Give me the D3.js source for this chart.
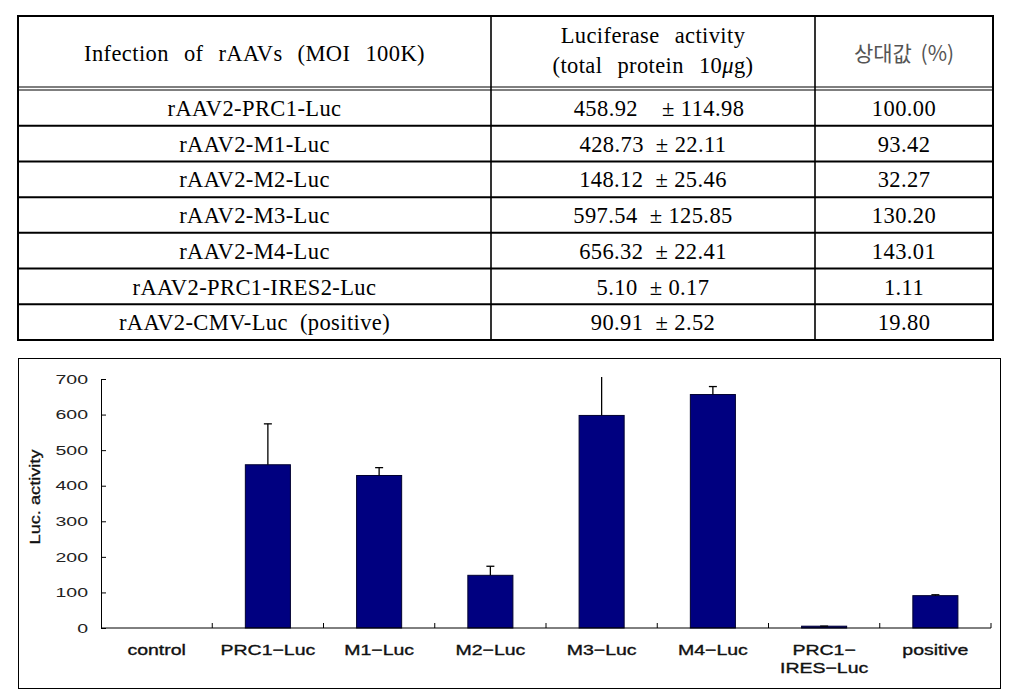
<!DOCTYPE html>
<html><head><meta charset="utf-8">
<script src="https://cdn.jsdelivr.net/npm/d3@7"></script>
<style>body{margin:0;background:#fff} svg{display:block;background:#fff}
.serif{font-family:"Liberation Serif","DejaVu Serif","Times New Roman",serif;}
.sans{font-family:"Liberation Sans","DejaVu Sans",Arial,sans-serif;}
.kr{font-family:"Noto Sans CJK KR",sans-serif;}
</style>
</head><body><svg id="c" width="1016" height="695"></svg>
<script>
// ---- table data ----
const tableHeader1 = "Infection of rAAVs (MOI 100K)";
const tableHeader2a = "Luciferase activity";
const tableHeader2b = "(total protein 10";
const tableHeader3 = "상대값 (%)";
const tableNames = ["rAAV2-PRC1-Luc","rAAV2-M1-Luc","rAAV2-M2-Luc","rAAV2-M3-Luc","rAAV2-M4-Luc","rAAV2-PRC1-IRES2-Luc","rAAV2-CMV-Luc  (positive)"];
const tableMeans = [458.92,428.73,148.12,597.54,656.32,5.10,90.91];
const tableSDs = [114.98,22.11,25.46,125.85,22.41,0.17,2.52];
const tableRelative = [100.00,93.42,32.27,130.20,143.01,1.11,19.80];

// ---- chart data ----
const categories = ["control","PRC1−Luc","M1−Luc","M2−Luc","M3−Luc","M4−Luc","PRC1−IRES−Luc","positive"];
const barValues = [0,458.92,428.73,148.12,597.54,656.32,5.10,90.91];
const barErrors = [0,114.98,22.11,25.46,125.85,22.41,0.17,2.52];
const yTicks = [0,100,200,300,400,500,600,700];
const yTitle = "Luc. activity";

const svg = d3.select("#c");

// ================= TABLE =================
const T = {left:18, right:993, top:16, bottom:340, col1:491, col2:815, hA:87, hB:90};
const tg = svg.append("g");
const rowY = d3.scaleBand().domain(d3.range(tableNames.length)).range([T.hB, T.bottom]).padding(0);
const colX = [(T.left+T.col1)/2, (T.col1+T.col2)/2, (T.col2+T.right)/2];

tg.selectAll("line.row").data(d3.range(1, tableNames.length)).join("line")
  .attr("x1",T.left).attr("x2",T.right)
  .attr("y1",i=>rowY(i)).attr("y2",i=>rowY(i))
  .attr("stroke","#000").attr("stroke-width",2);
[T.hA, T.hB].forEach(y=>tg.append("line").attr("x1",T.left).attr("x2",T.right).attr("y1",y).attr("y2",y).attr("stroke","#000").attr("stroke-width",1.2));
[T.col1, T.col2].forEach(x=>tg.append("line").attr("x1",x).attr("x2",x).attr("y1",T.top).attr("y2",T.bottom).attr("stroke","#000").attr("stroke-width",1.6));
tg.append("rect").attr("x",T.left).attr("y",T.top).attr("width",T.right-T.left).attr("height",T.bottom-T.top)
  .attr("fill","none").attr("stroke","#000").attr("stroke-width",2);

const txt = (g)=>g.attr("class","serif").style("font-size","22.5px").attr("text-anchor","middle").attr("fill","#000")
  .style("letter-spacing","0.4px").style("white-space","pre");

tg.append("text").call(txt).attr("x",colX[0]).attr("y",61).style("word-spacing","9px").text(tableHeader1);
tg.append("text").call(txt).attr("x",colX[1]).attr("y",43).style("word-spacing","9px").text(tableHeader2a);
const h2b = tg.append("text").call(txt).attr("x",colX[1]).attr("y",73).style("word-spacing","9px");
h2b.append("tspan").text(tableHeader2b);
h2b.append("tspan").style("font-style","italic").text("μ");
h2b.append("tspan").text("g)");
tg.append("text").attr("class","kr").attr("x",colX[2]).attr("y",61).attr("text-anchor","middle")
  .style("font-size","21px").attr("fill","#555").style("white-space","pre").style("word-spacing","4px").text(tableHeader3);

tableNames.forEach((n,i)=>{
  const yb = rowY(i) + 26;
  tg.append("text").call(txt).attr("x",colX[0]).attr("y",yb).text(n);
  tg.append("text").call(txt).attr("x",colX[1]+(i===0?6:0)).attr("y",yb)
    .text(tableMeans[i].toFixed(2) + (i===0 ? "    ± " : "  ± ") + tableSDs[i].toFixed(2));
  tg.append("text").call(txt).attr("x",colX[2]).attr("y",yb).text(tableRelative[i].toFixed(2));
});

// ================= CHART =================
svg.append("rect").attr("x",18.5).attr("y",358.5).attr("width",982).attr("height",330)
  .attr("fill","none").attr("stroke","#000").attr("stroke-width",1);

const P = {left:101, right:991, top:379, bottom:628};
const x = d3.scaleBand().domain(categories).range([P.left,P.right]).paddingInner(0.595).paddingOuter(0.2975);
const y = d3.scaleLinear().domain([0,700]).range([P.bottom,P.top]);

const cg = svg.append("g");
svg.append("defs").append("clipPath").attr("id","clip").append("rect")
  .attr("x",P.left).attr("y",P.top-2).attr("width",P.right-P.left).attr("height",P.bottom-P.top+2);

cg.selectAll("rect.bar").data(categories.map((c,i)=>({c,v:barValues[i],e:barErrors[i]})).filter(d=>d.v>0)).join("rect")
  .attr("x",d=>x(d.c)).attr("width",x.bandwidth())
  .attr("y",d=>y(d.v)).attr("height",d=>y(0)-y(d.v))
  .attr("fill","#000080").attr("stroke","#000030").attr("stroke-width",1);

const eg = cg.append("g").attr("clip-path","url(#clip)");
const errs = categories.map((c,i)=>({c,v:barValues[i],e:barErrors[i]})).filter(d=>d.e>0);
eg.selectAll("line.ev").data(errs).join("line")
  .attr("x1",d=>x(d.c)+x.bandwidth()/2).attr("x2",d=>x(d.c)+x.bandwidth()/2)
  .attr("y1",d=>y(d.v)).attr("y2",d=>y(d.v+d.e))
  .attr("stroke","#000").attr("stroke-width",1.3);
eg.selectAll("line.cap").data(errs.filter(d=>d.v+d.e<=700)).join("line")
  .attr("x1",d=>x(d.c)+x.bandwidth()/2-4).attr("x2",d=>x(d.c)+x.bandwidth()/2+4)
  .attr("y1",d=>y(d.v+d.e)).attr("y2",d=>y(d.v+d.e))
  .attr("stroke","#000").attr("stroke-width",1.3);

const ya = cg.append("g").attr("transform",`translate(${P.left},0)`)
  .call(d3.axisLeft(y).tickValues(yTicks).tickSize(-5).tickSizeOuter(0).tickFormat(d3.format("d")));
ya.select(".domain").attr("stroke","#000");
ya.selectAll(".tick line").attr("stroke","#000");
ya.selectAll(".tick text").attr("x",0).attr("transform","translate(-13,0) scale(1.5,1)")
  .attr("class","sans").style("font-size","13px").attr("fill","#222");

cg.append("line").attr("x1",P.left).attr("x2",P.right).attr("y1",P.bottom).attr("y2",P.bottom).attr("stroke","#000");
const boundaries = categories.map(c=>x(c)-(x.step()-x.bandwidth())/2).concat([P.right]).slice(1);
cg.selectAll("line.xt").data(boundaries).join("line")
  .attr("x1",d=>d).attr("x2",d=>d).attr("y1",P.bottom).attr("y2",P.bottom-5).attr("stroke","#000");

categories.forEach(c=>{
  const cx = x(c)+x.bandwidth()/2;
  const lines = c.length>10 ? [c.slice(0,c.indexOf("−")+1), c.slice(c.indexOf("−")+1)] : [c];
  lines.forEach((l,j)=>{
    cg.append("text").attr("transform",`translate(${cx},${655+j*18}) scale(1.3,1)`)
      .attr("text-anchor","middle").attr("class","sans").style("font-size","15px")
      .attr("fill","#111").attr("stroke","#111").attr("stroke-width",0.35).text(l);
  });
});

cg.append("text").attr("transform","translate(40,497) rotate(-90) scale(1.3,1)")
  .attr("text-anchor","middle").attr("class","sans").style("font-size","14px").attr("fill","#111")
  .attr("stroke","#111").attr("stroke-width",0.3).text(yTitle);
</script></body></html>
